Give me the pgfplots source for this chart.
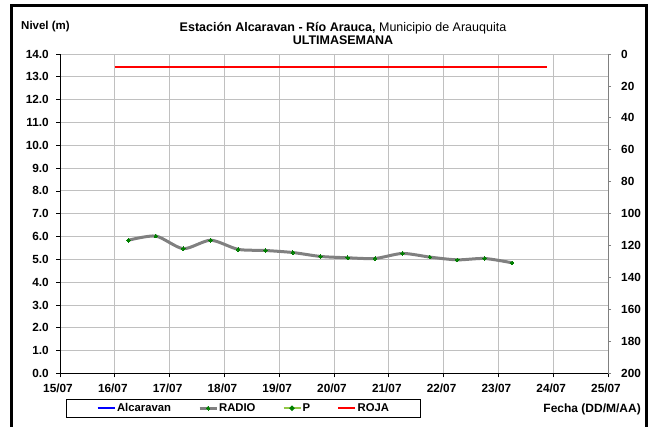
\documentclass[border=0pt]{standalone}
\usepackage{pgfplots}
\pgfplotsset{compat=1.18}
\usepackage{fontspec}
\setmainfont{Liberation Sans}
\definecolor{gridgray}{RGB}{192,192,192}
\definecolor{linegray}{RGB}{128,128,128}
\definecolor{dotgreen}{RGB}{0,128,0}
\definecolor{pgreen}{RGB}{146,200,70}
\pgfplotstableread{
x y
16.25 5.84
16.75 6.02
17.25 5.47
17.75 5.84
18.25 5.44
18.75 5.39
19.25 5.30
19.75 5.13
20.25 5.07
20.75 5.04
21.25 5.26
21.75 5.10
22.25 4.98
22.75 5.04
23.25 4.85
}\radio
\pgfplotstableread{
x y
16.00 13.43
23.88 13.43
}\roja
\begin{document}
\begin{tikzpicture}
\useasboundingbox (0pt,0pt) rectangle (650pt,427pt);
\draw[line width=3pt] (11.7pt,0pt) -- (11.7pt,421pt) -- (646.5pt,421pt) -- (646.5pt,0pt);
\begin{axis}[
  at={(60pt,53.5pt)}, anchor=south west, scale only axis,
  width=548pt, height=319.5pt,
  xmin=15, xmax=25, ymin=0, ymax=14,
  axis x line*=bottom, axis y line*=left,
  axis line style={black, line width=0.8pt},
  xtick={15,...,25},
  xticklabels={15/07,16/07,17/07,18/07,19/07,20/07,21/07,22/07,23/07,24/07,25/07},
  ytick={0,...,14},
  yticklabels={0.0,1.0,2.0,3.0,4.0,5.0,6.0,7.0,8.0,9.0,10.0,11.0,12.0,13.0,14.0},
  grid=major, major grid style={draw=gridgray, line width=0.9pt},
  tick align=outside, major tick length=4pt,
  tick style={black, line width=0.8pt},
  ticklabel style={font=\bfseries\fontsize{11.8}{13}\selectfont},
  yticklabel style={inner sep=0pt, anchor=east, xshift=-7pt},
  xticklabel style={inner sep=0pt, anchor=north, xshift=-2pt, yshift=-6.5pt},
  legend columns=4,
  legend style={at={(axis description cs:0.011,-0.0798)}, anchor=north west,
    draw=black, line width=0.8pt, font=\bfseries\fontsize{11.3}{13}\selectfont,
    inner xsep=30pt, inner ysep=2.5pt,
    /tikz/every even column/.append style={column sep=26pt},
    nodes={inner xsep=1pt, inner ysep=1.5pt}},
  legend cell align=left,
]
\addlegendimage{blue, line width=2.5pt}
\addlegendentry{Alcaravan}
\addplot[linegray, line width=3pt, smooth, tension=0.45,
  mark=*, mark size=1.8pt, mark options={dotgreen, fill=dotgreen, line width=0pt}]
  table[x=x,y=y]{\radio};
\addlegendentry{RADIO}
\addlegendimage{pgreen, line width=2pt, mark=*, mark size=1.5pt, mark options={dotgreen, fill=dotgreen}}
\addlegendentry{P}
\addplot[red, line width=2.5pt] table[x=x,y=y]{\roja};
\addlegendentry{ROJA}
\end{axis}
\begin{axis}[
  at={(60pt,53.5pt)}, anchor=south west, scale only axis,
  width=548pt, height=319.5pt,
  xmin=15, xmax=25, ymin=0, ymax=200, y dir=reverse,
  axis x line=none, axis y line*=right,
  y axis line style={linegray, line width=0.8pt},
  ytick={0,20,...,200},
  yticklabels={0,20,40,60,80,100,120,140,160,180,200},
  tick align=outside, major tick length=3pt,
  tick style={linegray, line width=0.8pt},
  yticklabel style={font=\bfseries\fontsize{11.8}{13}\selectfont, inner sep=0pt, anchor=west, xshift=10pt},
]
\end{axis}
\node[anchor=base] at (343pt,395pt) {\fontsize{12.5}{14}\selectfont\textbf{Estación Alcaravan - Río Arauca,} Municipio de Arauquita};
\node[anchor=base] at (343pt,382.3pt) {\fontsize{12.5}{14}\selectfont\textbf{ULTIMASEMANA}};
\node[anchor=base west, inner sep=0pt] at (21pt,397pt) {\fontsize{11.5}{13}\selectfont\textbf{Nivel (m)}};
\node[anchor=east, inner sep=0pt] at (641pt,18pt) {\fontsize{12}{14}\selectfont\textbf{Fecha (DD/M/AA)}};
\end{tikzpicture}
\end{document}
